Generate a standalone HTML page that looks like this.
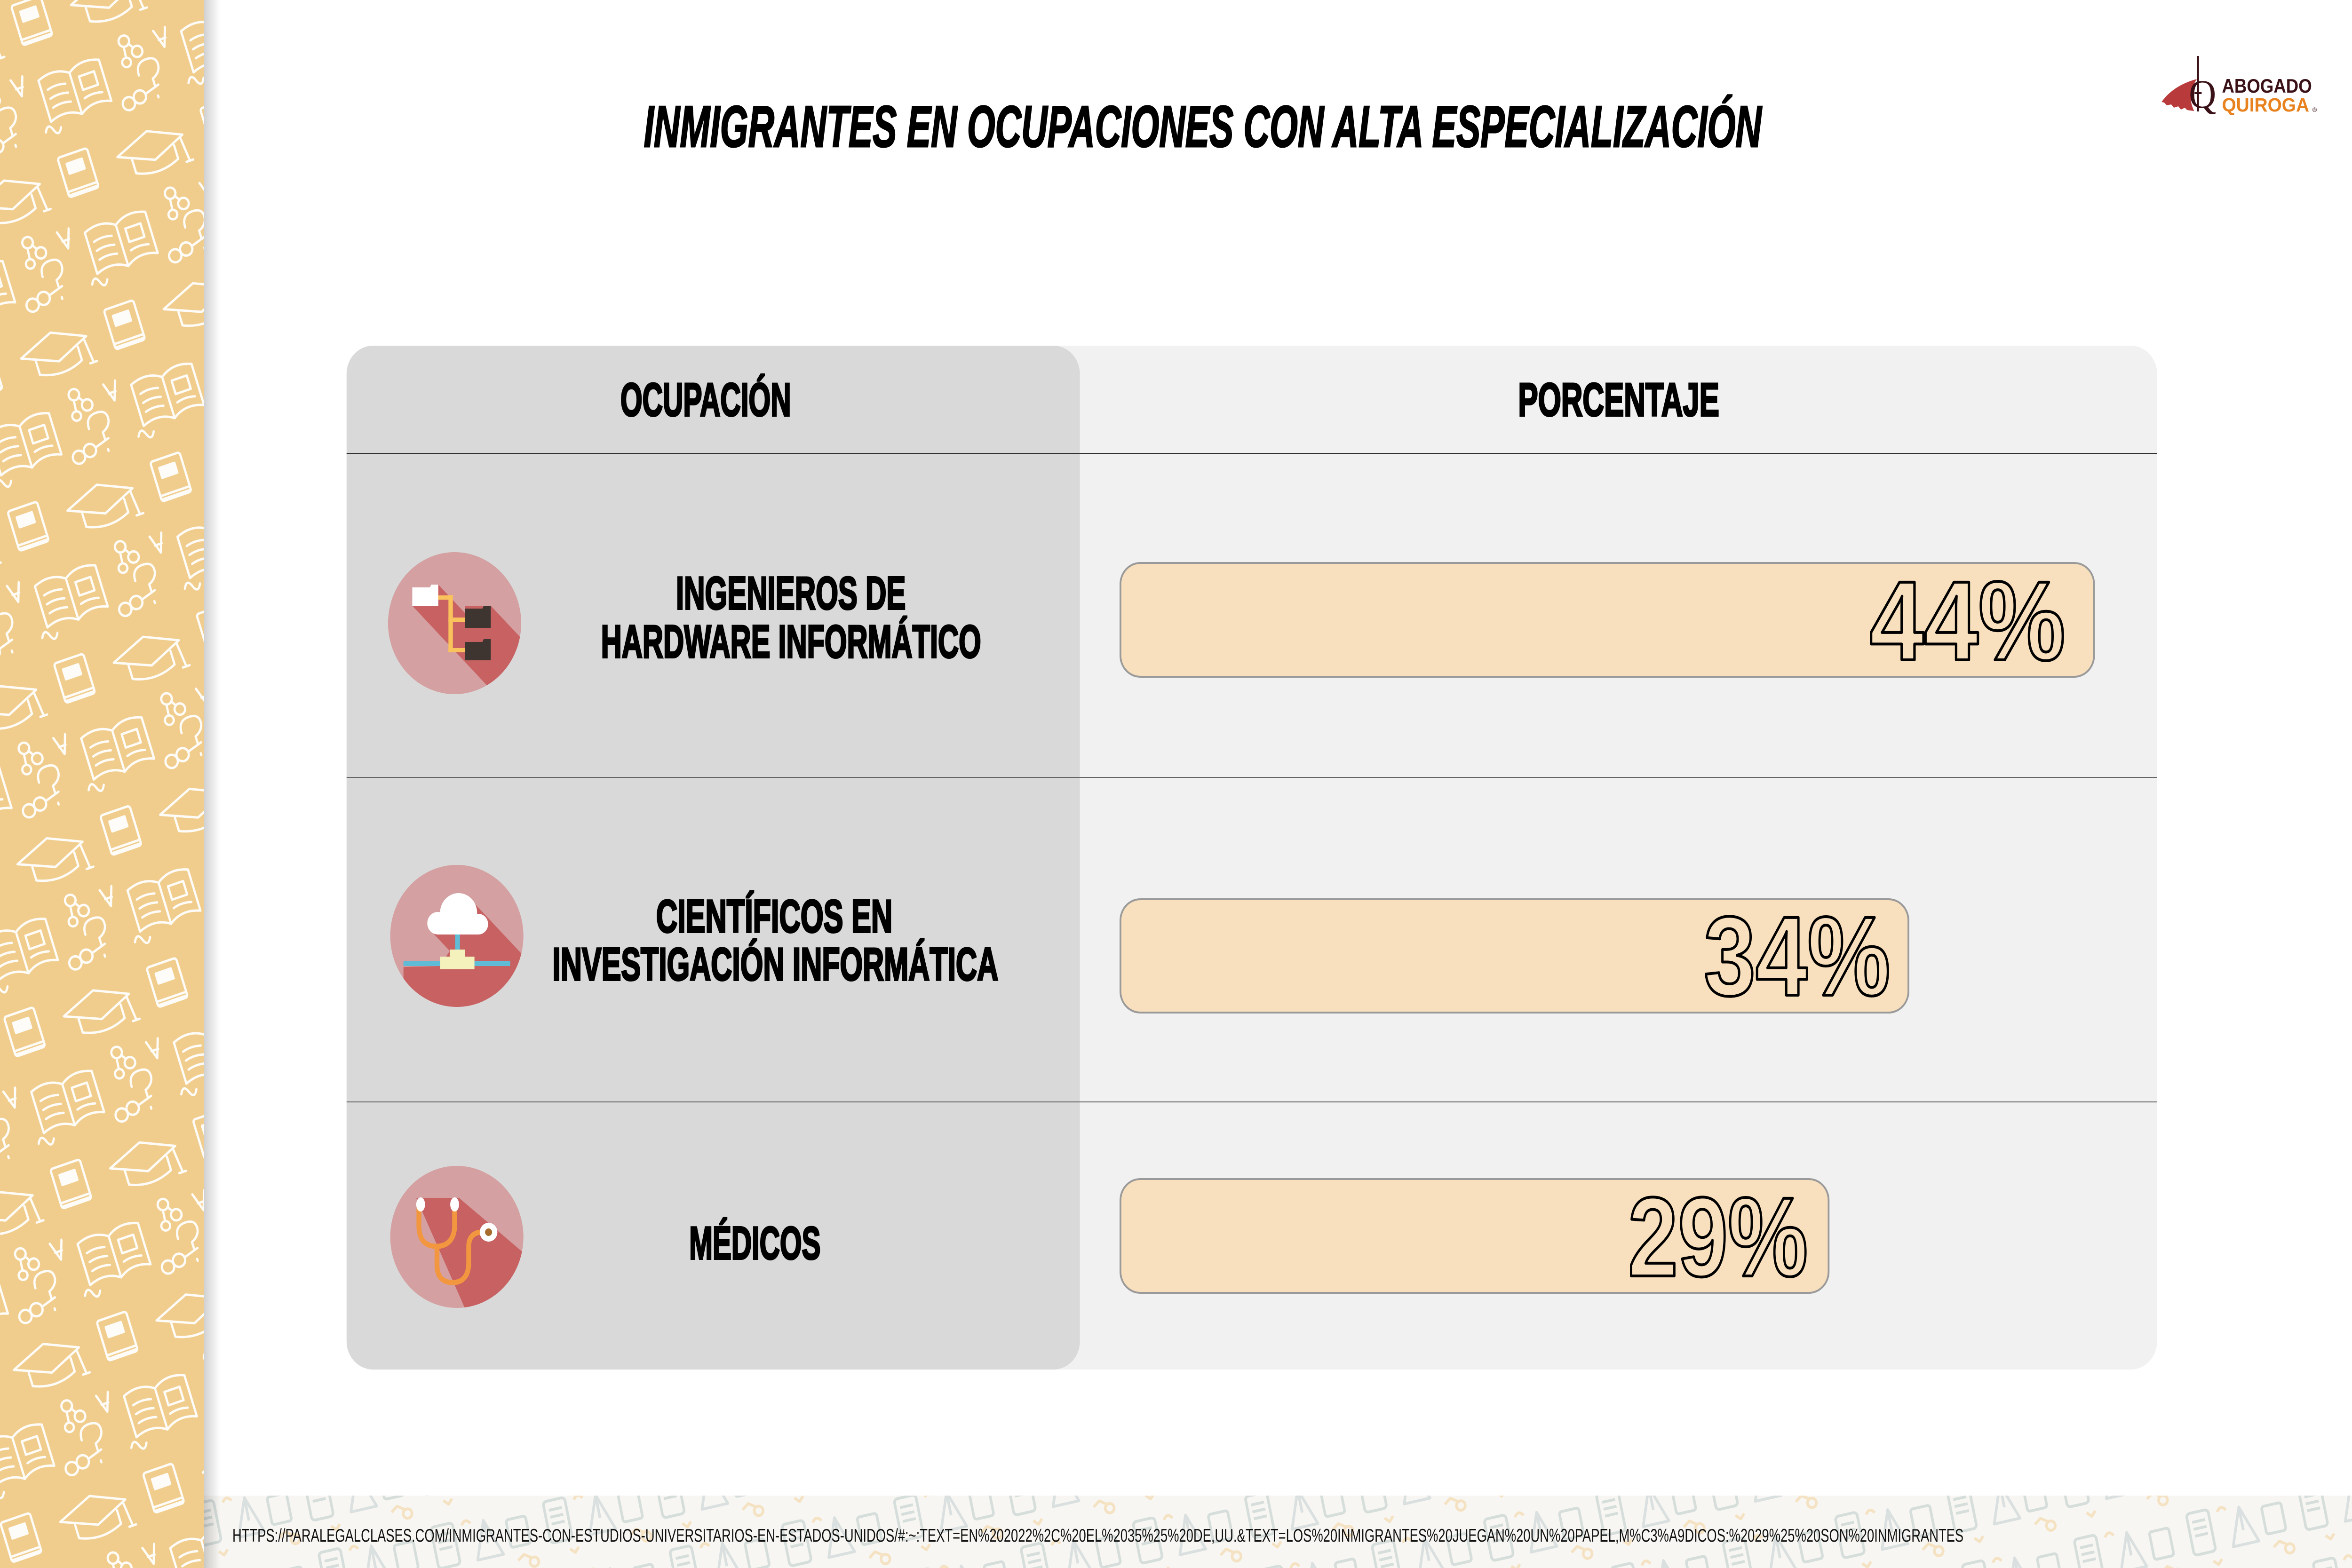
<!DOCTYPE html>
<html>
<head>
<meta charset="utf-8">
<style>
html,body{margin:0;padding:0;background:#fff;width:100%;height:100%;overflow:hidden;}
svg{display:block;position:absolute;left:0;top:0;width:100vw;height:100vh;}
</style>
</head>
<body>
<svg viewBox="0 0 5334 3334" preserveAspectRatio="none" xmlns="http://www.w3.org/2000/svg" overflow="hidden">
<defs>
  <pattern id="doodle" width="340" height="340" patternUnits="userSpaceOnUse" patternTransform="rotate(-18)">
    <rect width="340" height="340" fill="#F0CD8D"/>
    <g stroke="#FFFFFF" stroke-width="5" fill="none" stroke-linejoin="round" stroke-linecap="round" opacity="0.95">
      <rect x="20" y="20" width="70" height="88" rx="6"/>
      <rect x="36" y="38" width="36" height="22" fill="#fff"/>
      <path d="M22 96 h66 M22 104 h66"/>
      <path d="M150 60 L230 28 L305 60 L230 92 Z M180 76 v30 q50 22 100 0 v-30 M298 64 l6 52 M296 118 l16 0"/>
      <path d="M30 190 q40 -16 72 6 q32 -22 72 -6 v92 q-40 -16 -72 6 q-32 -22 -72 -6 Z M102 196 v92 M44 215 q20 -6 42 0 M44 235 q20 -6 42 0 M44 255 q20 -6 42 0 M120 210 h36 v30 h-36 Z M118 258 q20 -6 42 0"/>
      <circle cx="240" cy="170" r="12"/><circle cx="262" cy="200" r="12"/><circle cx="232" cy="215" r="10"/>
      <path d="M248 178 l8 12 M236 182 l-2 22"/>
      <path d="M250 250 q0 -28 26 -28 q26 0 22 24 q-4 14 -20 20 v16 M278 304 v4"/>
      <circle cx="210" cy="300" r="14"/><circle cx="238" cy="294" r="14"/><path d="M252 292 l34 -10"/>
      <path d="M310 170 l14 40 l14 -40 M316 192 h16"/>
      <path d="M12 300 q10 -20 18 0 q8 20 18 0"/>
    </g>
  </pattern>
  <pattern id="foot" width="260" height="160" patternUnits="userSpaceOnUse" patternTransform="rotate(-12)">
    <rect width="260" height="160" fill="#F8F6F2"/>
    <g fill="none" stroke-width="6" stroke-linejoin="round">
      <rect x="20" y="20" width="50" height="90" rx="8" stroke="#D6DEDC"/>
      <path d="M30 40 h30 M30 55 h30 M30 70 h30" stroke="#D6DEDC"/>
      <path d="M110 110 l30 -80 l30 80 Z M140 30 v50" stroke="#D9E0DF"/>
      <rect x="190" y="40" width="45" height="60" rx="6" stroke="#D6DEDC"/>
      <path d="M90 30 q10 -15 20 0 M200 130 l15 -10 l15 10 M60 130 l10 10 l10 -10" stroke="#F4E2C2"/>
      <circle cx="235" cy="140" r="10" stroke="#F4E2C2"/>
    </g>
  </pattern>
  <linearGradient id="stripShadow" x1="0" x2="1" y1="0" y2="0">
    <stop offset="0" stop-color="#000" stop-opacity="0.18"/>
    <stop offset="1" stop-color="#000" stop-opacity="0"/>
  </linearGradient>
  <clipPath id="c1"><circle cx="1031" cy="1325" r="151"/></clipPath>
  <clipPath id="c2"><circle cx="1036" cy="1990" r="151"/></clipPath>
  <clipPath id="c3"><circle cx="1036" cy="2630" r="151"/></clipPath>
</defs>

<!-- background -->
<rect x="0" y="0" width="5334" height="3334" fill="#FFFFFF"/>

<!-- footer band -->
<rect x="463" y="3180" width="4871" height="154" fill="url(#foot)"/>

<!-- left strip -->
<rect x="0" y="0" width="463" height="3334" fill="url(#doodle)"/>
<rect x="463" y="0" width="36" height="3334" fill="url(#stripShadow)"/>

<!-- title -->
<g transform="translate(1460,312) scale(1,1.55)">
  <text x="0" y="0" font-family="'Liberation Sans', sans-serif" font-weight="700" font-style="italic" font-size="80" textLength="2535" lengthAdjust="spacingAndGlyphs" fill="#000" stroke="#000" stroke-width="2">INMIGRANTES EN OCUPACIONES CON ALTA ESPECIALIZACIÓN</text>
</g>

<!-- logo -->
<g>
  <path d="M4902,217 Q4928,182 4982,168 Q4958,202 4976,236 L4960,234 L4955,229 L4946,233 L4940,226 L4930,229 L4924,222 L4914,224 L4908,218 Z" fill="#B93A3A"/>
  <text x="4964" y="229" font-family="'Liberation Serif', serif" font-size="86" fill="#3A1116">Q</text>
  <rect x="4983" y="119" width="4" height="118" fill="#3A1116"/>
  <rect x="4977" y="196" width="16" height="4" fill="#3A1116"/>
  <text x="5039" y="197" font-family="'Liberation Sans', sans-serif" font-weight="700" font-size="42" textLength="204" lengthAdjust="spacingAndGlyphs" fill="#3A1116">ABOGADO</text>
  <text x="5039" y="237" font-family="'Liberation Sans', sans-serif" font-weight="700" font-size="41" textLength="198" lengthAdjust="spacingAndGlyphs" fill="#E8821E">QUIROGA</text>
  <text x="5244" y="238" font-family="'Liberation Sans', sans-serif" font-size="14" fill="#3A1116">®</text>
</g>

<!-- table panels -->
<rect x="786" y="735" width="4106" height="2177" rx="60" ry="60" fill="#F1F1F1"/>
<rect x="786" y="735" width="1663" height="2177" rx="60" ry="60" fill="#D9D9D9"/>

<!-- lines -->
<rect x="786" y="963" width="4106" height="2" fill="#333"/>
<rect x="786" y="1652" width="4106" height="2" fill="#666"/>
<rect x="786" y="2342" width="4106" height="2" fill="#666"/>

<!-- headers -->
<g font-family="'Liberation Sans', sans-serif" font-weight="700" fill="#000" stroke="#000" stroke-width="4">
  <text x="1407" y="884" font-size="99" textLength="387" lengthAdjust="spacingAndGlyphs">OCUPACIÓN</text>
  <text x="3443" y="884" font-size="99" textLength="456" lengthAdjust="spacingAndGlyphs">PORCENTAJE</text>

  <text x="1533" y="1295" font-size="98" textLength="521" lengthAdjust="spacingAndGlyphs">INGENIEROS DE</text>
  <text x="1363" y="1398" font-size="98" textLength="862" lengthAdjust="spacingAndGlyphs">HARDWARE INFORMÁTICO</text>

  <text x="1488" y="1982" font-size="98" textLength="536" lengthAdjust="spacingAndGlyphs">CIENTÍFICOS EN</text>
  <text x="1253" y="2084" font-size="98" textLength="1011" lengthAdjust="spacingAndGlyphs">INVESTIGACIÓN INFORMÁTICA</text>

  <text x="1563" y="2677" font-size="98" textLength="298" lengthAdjust="spacingAndGlyphs">MÉDICOS</text>
</g>

<!-- icon 1: hardware -->
<g>
  <circle cx="1031" cy="1325" r="151" fill="#D4A0A1"/>
  <polygon clip-path="url(#c1)" points="935,1288 994,1243 1055,1304 1055,1288 1113,1288 1413,1588 1235,1588" fill="#C76162"/>
  <path d="M935,1249 H975 L978,1243 H994 V1288 H935 Z" fill="#FFFFFF"/>
  <rect x="994" y="1266" width="33" height="9" fill="#F9C25C"/>
  <rect x="1017" y="1265" width="10" height="122" fill="#F9C25C"/>
  <rect x="1017" y="1313" width="38" height="10" fill="#F9C25C"/>
  <rect x="1017" y="1378" width="38" height="9" fill="#F9C25C"/>
  <path d="M1055,1294 H1094 L1097,1288 H1113 V1335 H1055 Z" fill="#3E3531"/>
  <path d="M1055,1365 H1094 L1097,1359 H1113 V1404 H1055 Z" fill="#3E3531"/>
</g>

<!-- icon 2: cloud -->
<g>
  <circle cx="1036" cy="1990" r="151" fill="#D4A0A1"/>
  <polygon clip-path="url(#c2)" points="983,1985 1077,1922 1250,2095 1250,2200 915,2200 915,2056 998,2054 1020,2022" fill="#C76162"/>
  <g fill="#FFFFFF">
    <circle cx="993" cy="1963" r="24"/>
    <circle cx="1085" cy="1965" r="22"/>
    <circle cx="1040" cy="1941" r="42"/>
    <rect x="993" y="1950" width="92" height="37"/>
  </g>
  <rect x="1032" y="1987" width="11" height="33" fill="#5FBBD6"/>
  <rect x="915" y="2043" width="242" height="11" fill="#5FBBD6"/>
  <rect x="1020" y="2019" width="34" height="16" fill="#F5F1BC"/>
  <rect x="998" y="2034" width="78" height="27" fill="#F5F1BC"/>
</g>

<!-- icon 3: stethoscope -->
<g>
  <circle cx="1036" cy="2630" r="151" fill="#D4A0A1"/>
  <polygon clip-path="url(#c3)" points="944,2547 1041,2547 1195,2670 1195,2800 1063,2800" fill="#C76162"/>
  <g fill="none" stroke="#F2973F" stroke-width="11" stroke-linecap="round">
    <path d="M950,2570 V2605 C950,2638 966,2650 990,2650 C1014,2650 1031,2636 1031,2605 V2570"/>
    <path d="M991,2650 V2690 C991,2715 1004,2727 1027,2727 C1050,2727 1063,2712 1063,2685 V2650 C1063,2630 1075,2620 1092,2620"/>
  </g>
  <ellipse cx="954" cy="2561" rx="10" ry="15" fill="#FFFFFF"/>
  <ellipse cx="1031" cy="2561" rx="10" ry="15" fill="#FFFFFF"/>
  <circle cx="1108" cy="2620" r="20" fill="#FFFFFF"/>
  <circle cx="1108" cy="2620" r="8" fill="#A86C2E"/>
</g>

<!-- bars -->
<rect x="2541" y="1197" width="2208" height="242" rx="45" ry="45" fill="#F8DFBD" stroke="#9A9A9A" stroke-width="4"/>
<rect x="2541" y="1912" width="1787" height="241" rx="45" ry="45" fill="#F8DFBD" stroke="#9A9A9A" stroke-width="4"/>
<rect x="2541" y="2507" width="1606" height="242" rx="45" ry="45" fill="#F8DFBD" stroke="#9A9A9A" stroke-width="4"/>

<g font-family="'Liberation Sans', sans-serif" font-weight="700" fill="none" stroke="#000" stroke-width="6" stroke-linejoin="round">
  <text x="4240" y="1403" font-size="240" textLength="444" lengthAdjust="spacingAndGlyphs">44%</text>
  <text x="3864" y="2116" font-size="240" textLength="423" lengthAdjust="spacingAndGlyphs">34%</text>
  <text x="3692" y="2713" font-size="240" textLength="408" lengthAdjust="spacingAndGlyphs">29%</text>
</g>

<!-- footer url -->
<g transform="translate(527,3278) scale(1,1.3)">
  <text x="0" y="0" font-family="'Liberation Sans', sans-serif" font-size="30" textLength="3926" lengthAdjust="spacingAndGlyphs" fill="#111">HTTPS://PARALEGALCLASES.COM/INMIGRANTES-CON-ESTUDIOS-UNIVERSITARIOS-EN-ESTADOS-UNIDOS/#:~:TEXT=EN%202022%2C%20EL%2035%25%20DE,UU.&amp;TEXT=LOS%20INMIGRANTES%20JUEGAN%20UN%20PAPEL,M%C3%A9DICOS:%2029%25%20SON%20INMIGRANTES</text>
</g>
</svg>
</body>
</html>
